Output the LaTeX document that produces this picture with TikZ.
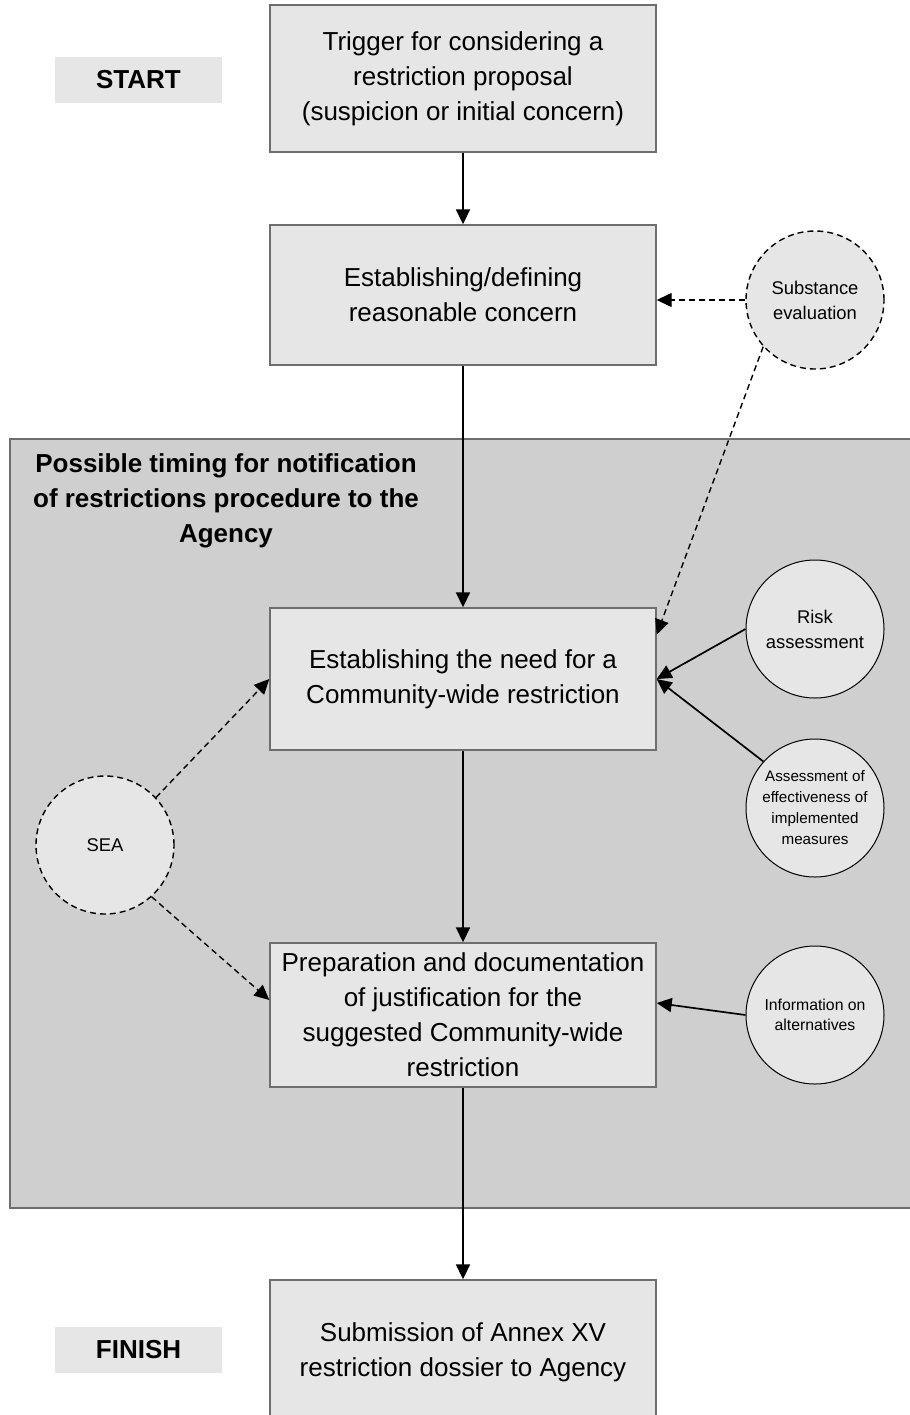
\documentclass[tikz,border=0pt]{standalone}
\usepackage{fontspec}
\setmainfont{Liberation Sans}
\usetikzlibrary{arrows.meta,calc}
\definecolor{boxfill}{HTML}{E6E6E6}
\definecolor{regfill}{HTML}{CFCFCF}
\definecolor{boxline}{HTML}{6E6E6E}
\begin{document}
\begin{tikzpicture}[x=0.5pt,y=-0.5pt,
  stepbox/.style={draw=boxline,line width=0.7pt,fill=boxfill,minimum width=193pt,align=center,font=\fontsize{13}{17.5}\selectfont,inner sep=0pt},
  tag/.style={fill=boxfill,minimum width=83.5pt,minimum height=23pt,inner sep=0pt,font=\fontsize{13}{15}\selectfont\bfseries},
  circ/.style={circle,draw=black,line width=0.5pt,fill=boxfill,minimum size=69pt,inner sep=0pt,align=center,font=\fontsize{9.2}{12.5}\selectfont},
  dcirc/.style={circ,dash pattern=on 3pt off 2pt,line width=0.7pt},
  flow/.style={-{Triangle[length=7.5pt,width=7pt]},line width=0.85pt},
  dflow/.style={-{Triangle[length=7.5pt,width=7pt]},line width=0.7pt,dash pattern=on 3pt off 2pt}]
\useasboundingbox (0,0) rectangle (910,1415);
\clip (0,0) rectangle (910,1415);
% background region
\draw[draw=boxline,fill=regfill,line width=0.6pt] (10,439) rectangle (920,1208);
\node[font=\fontsize{13}{17.5}\selectfont\bfseries,align=center] (title) at (226,501)
  {Possible timing for notification\\of restrictions procedure to the\\Agency};
% tags
\node[tag] (start) at (138.5,80) {START};
\node[tag] (finish) at (138.5,1350) {FINISH};
% main boxes
\node[stepbox,minimum height=73.5pt] (b1) at (463,78.5)
  {Trigger for considering a\\restriction proposal\\(suspicion or initial concern)};
\node[stepbox,minimum height=70pt] (b2) at (463,295)
  {Establishing/defining\\reasonable concern};
\node[stepbox,minimum height=71pt] (b3) at (463,679)
  {Establishing the need for a\\Community-wide restriction};
\node[stepbox,minimum height=72pt] (b4) at (463,1015)
  {Preparation and documentation\\of justification for the\\suggested Community-wide\\restriction};
\node[stepbox,minimum height=72pt] (b5) at (463,1352)
  {Submission of Annex XV\\restriction dossier to Agency};
% circles
\node[dcirc] (subst) at (815,300) {Substance\\evaluation};
\node[circ] (risk) at (815,629) {Risk\\assessment};
\node[circ,font=\fontsize{7.6}{10.5}\selectfont] (assess) at (815,808)
  {Assessment of\\effectiveness of\\implemented\\measures};
\node[circ,font=\fontsize{7.9}{10}\selectfont] (info) at (815,1015)
  {Information on\\alternatives};
\node[dcirc] (sea) at (105,845) {SEA};
% main flow
\draw[flow] (b1.south) -- (b2.north);
\draw[flow] (b2.south) -- (b3.north);
\draw[flow] (b3.south) -- (b4.north);
\draw[flow] (b4.south) -- (b5.north);
% side inputs
\draw[dflow] (subst.west) -- (subst.west -| b2.east);
\draw[dflow] (subst.222) -- ($(b3.north east)!0.38!(b3.east)$);
\draw[flow] (risk.west) -- (b3.east);
\draw[flow] (assess.138) -- (b3.east);
\draw[flow] (info.west) -- ($(b4.east)+(0,-12)$);
\draw[dflow] (sea.43) -- (b3.west);
\draw[dflow] (sea.312) -- ($(b4.west)+(0,-15)$);
\end{tikzpicture}
\end{document}
